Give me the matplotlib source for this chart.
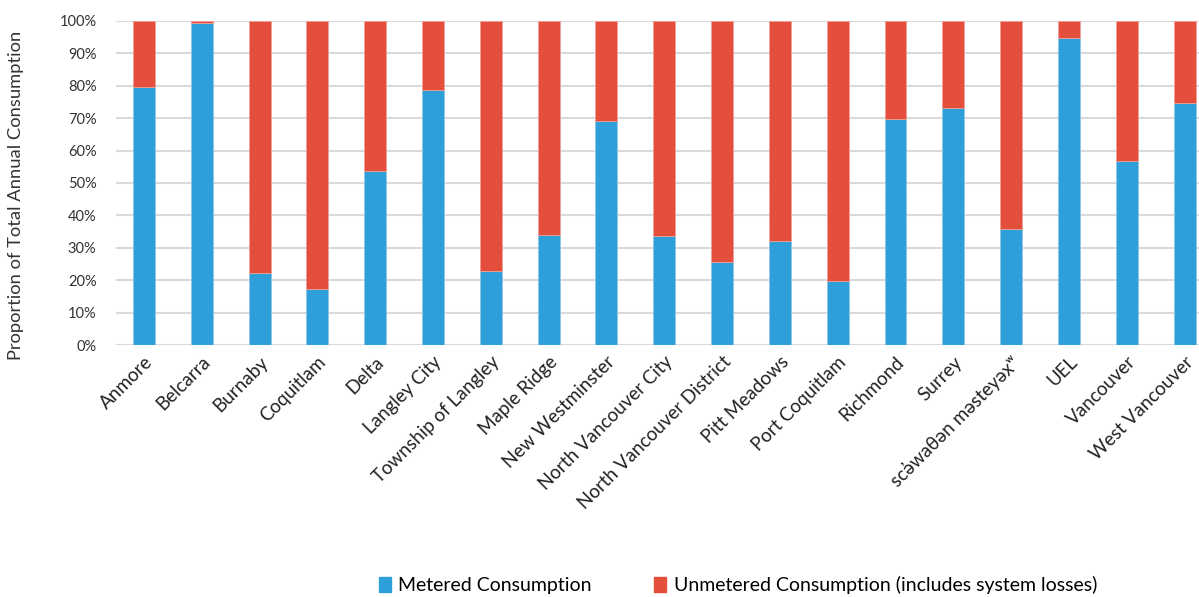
# stacked 100% bars: metered vs unmetered consumption by member jurisdiction
import matplotlib
matplotlib.use("Agg")
import matplotlib.pyplot as plt
import matplotlib.patches as mpatches
from matplotlib.ticker import PercentFormatter

municipalities = ["Anmore", "Belcarra", "Burnaby", "Coquitlam", "Delta", "Langley City",
                  "Township of Langley", "Maple Ridge", "New Westminster", "North Vancouver City",
                  "North Vancouver District", "Pitt Meadows", "Port Coquitlam", "Richmond", "Surrey",
                  "sc\u0313\u0259wa\u03b8\u0259n m\u0259stey\u0259x\u02b7", "UEL", "Vancouver", "West Vancouver"]
metered = [79.7, 99.3, 22.3, 17.2, 53.6, 78.6, 22.7, 34.0, 69.0, 33.7,
           25.7, 32.2, 19.8, 69.7, 73.1, 35.7, 94.8, 56.9, 74.7]
unmetered = [100 - m for m in metered]

blue = "#2E9FD9"
red = "#E44F3B"

plt.rcParams["font.family"] = ["Lato", "DejaVu Sans"]

fig = plt.figure(figsize=(11.99, 5.97), dpi=100)
ax = fig.add_axes([0.0967, 0.422, 0.9033, 0.543])

x = list(range(len(municipalities)))
ax.bar(x, metered, width=0.38, color=blue, edgecolor="#8cc8ea", linewidth=0.6, zorder=3)
ax.bar(x, unmetered, width=0.38, bottom=metered, color=red, edgecolor="#f0a096", linewidth=0.6, zorder=3)

ax.set_xlim(-0.484, 18.25)
ax.set_ylim(0, 100)
ax.set_yticks(range(0, 101, 10))
ax.yaxis.set_major_formatter(PercentFormatter(decimals=0))
ax.grid(axis="y", color="#d9d9d9", linewidth=1.5, zorder=0)
for s in ax.spines.values():
    s.set_visible(False)
ax.tick_params(axis="y", length=0, pad=14, labelsize=10.5, labelcolor="#333333")
ax.tick_params(axis="x", length=0, pad=6)
ax.set_xticks(x)
ax.set_xticklabels(municipalities, rotation=45, ha="right", rotation_mode="anchor", fontsize=13.5,
                   color="#222222")
ax.set_ylabel("Proportion of Total Annual Consumption", fontsize=13.2, color="#333333")
ax.yaxis.set_label_coords(-0.085, 0.463)

p1 = mpatches.Patch(color=blue, label="Metered Consumption")
p2 = mpatches.Patch(color=red, label="Unmetered Consumption (includes system losses)")
fig.legend(handles=[p1, p2], loc="center", bbox_to_anchor=(738 / 1199, 1 - 585 / 597), ncol=2,
           frameon=False, fontsize=14, handlelength=0.6, handleheight=0.8, handletextpad=0.4,
           columnspacing=3.2)

fig.savefig("out.png", dpi=100)
